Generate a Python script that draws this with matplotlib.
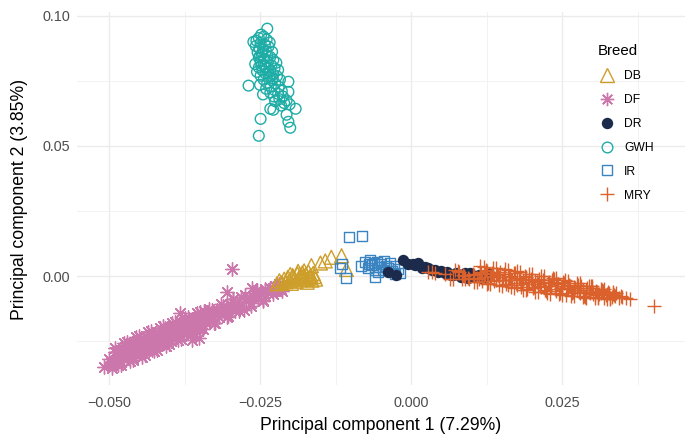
import matplotlib
matplotlib.use("Agg")
import matplotlib.pyplot as plt
from matplotlib.lines import Line2D
from matplotlib.ticker import FixedLocator

plt.rcParams['font.family'] = ['Liberation Sans', 'DejaVu Sans']

# ---------------- data ----------------
breeds = ["DB", "DF", "DR", "GWH", "IR", "MRY"]

gwh_x = [-0.0238, -0.0261, -0.0248, -0.0239, -0.0252, -0.0244, -0.0256, -0.0234, -0.0249, -0.0242,
         -0.0257, -0.0236, -0.0251, -0.0245, -0.0240, -0.0254, -0.0230, -0.0247, -0.0238, -0.0252,
         -0.0233, -0.0243, -0.0228, -0.0223, -0.0249, -0.0237, -0.0258, -0.0244, -0.0231, -0.0252,
         -0.0239, -0.0226, -0.0246, -0.0233, -0.0220, -0.0255, -0.0241, -0.0228, -0.0249, -0.0235,
         -0.0222, -0.0269, -0.0244, -0.0230, -0.0217, -0.0238, -0.0225, -0.0203, -0.0250, -0.0232,
         -0.0219, -0.0240, -0.0226, -0.0203, -0.0214, -0.0233, -0.0220, -0.0245, -0.0227, -0.0212,
         -0.0218, -0.0206, -0.0225, -0.0210, -0.0215, -0.0201, -0.0233, -0.0228, -0.0191, -0.0206,
         -0.0203, -0.0200, -0.0249, -0.0252, -0.0246, -0.0250, -0.0242, -0.0236, -0.0248, -0.0229]
gwh_y = [0.0951, 0.0900, 0.0928, 0.0909, 0.0915, 0.0920, 0.0905, 0.0898, 0.0896, 0.0889,
         0.0884, 0.0882, 0.0876, 0.0870, 0.0865, 0.0860, 0.0862, 0.0852, 0.0848, 0.0840,
         0.0842, 0.0835, 0.0830, 0.0820, 0.0825, 0.0822, 0.0815, 0.0812, 0.0810, 0.0802,
         0.0800, 0.0798, 0.0790, 0.0788, 0.0792, 0.0785, 0.0778, 0.0775, 0.0770, 0.0765,
         0.0768, 0.0732, 0.0755, 0.0752, 0.0755, 0.0742, 0.0740, 0.0747, 0.0735, 0.0730,
         0.0728, 0.0720, 0.0715, 0.0708, 0.0712, 0.0705, 0.0700, 0.0698, 0.0690, 0.0690,
         0.0680, 0.0675, 0.0672, 0.0665, 0.0655, 0.0660, 0.0643, 0.0639, 0.0643, 0.0620,
         0.0593, 0.0570, 0.0604, 0.0539, 0.0860, 0.0845, 0.0805, 0.0780, 0.0808, 0.0760]

df_x = [-0.0508, -0.0495, -0.0500, -0.0490, -0.0487, -0.0483, -0.0480, -0.0478, -0.0475, -0.0472,
        -0.0470, -0.0468, -0.0466, -0.0463, -0.0461, -0.0459, -0.0457, -0.0455, -0.0453, -0.0451,
        -0.0449, -0.0447, -0.0445, -0.0443, -0.0441, -0.0439, -0.0437, -0.0435, -0.0433, -0.0431,
        -0.0429, -0.0427, -0.0425, -0.0423, -0.0421, -0.0419, -0.0417, -0.0415, -0.0413, -0.0411,
        -0.0409, -0.0407, -0.0405, -0.0403, -0.0401, -0.0399, -0.0397, -0.0395, -0.0393, -0.0391,
        -0.0389, -0.0387, -0.0385, -0.0383, -0.0381, -0.0379, -0.0377, -0.0375, -0.0373, -0.0371,
        -0.0369, -0.0367, -0.0365, -0.0363, -0.0361, -0.0359, -0.0357, -0.0355, -0.0353, -0.0351,
        -0.0349, -0.0347, -0.0345, -0.0342, -0.0339, -0.0336, -0.0333, -0.0330, -0.0327, -0.0324,
        -0.0321, -0.0318, -0.0315, -0.0312, -0.0309, -0.0306, -0.0303, -0.0300, -0.0297, -0.0294,
        -0.0291, -0.0288, -0.0285, -0.0281, -0.0277, -0.0273, -0.0269, -0.0265, -0.0261, -0.0257,
        -0.0253, -0.0249, -0.0245, -0.0241, -0.0237, -0.0233, -0.0229, -0.0225, -0.0222, -0.0219,
        -0.0216, -0.0213, -0.0210, -0.0297, -0.0305, -0.0264, -0.0383, -0.0363, -0.0351, -0.0495,
        -0.0497,
        -0.0492, -0.0489, -0.0486, -0.0481, -0.0476, -0.0471, -0.0467, -0.0462, -0.0458, -0.0454,
        -0.0450, -0.0446, -0.0442, -0.0438, -0.0434, -0.0430, -0.0426, -0.0422, -0.0418, -0.0414,
        -0.0410, -0.0406, -0.0402, -0.0398, -0.0394, -0.0390, -0.0386, -0.0382, -0.0378, -0.0374,
        -0.0370, -0.0366, -0.0362, -0.0358, -0.0354, -0.0350, -0.0346, -0.0340, -0.0334, -0.0328,
        -0.0224, -0.0218, -0.0228, -0.0214, -0.0221, -0.0241,
        -0.0490, -0.0485, -0.0475, -0.0465, -0.0455, -0.0445, -0.0435, -0.0425, -0.0415, -0.0405,
        -0.0395, -0.0385, -0.0375, -0.0365, -0.0355, -0.0345, -0.0335, -0.0325, -0.0315, -0.0305,
        -0.0295, -0.0285, -0.0275, -0.0265, -0.0255, -0.0245,
        -0.0480, -0.0470, -0.0460, -0.0450, -0.0440, -0.0430, -0.0420, -0.0410, -0.0400, -0.0390,
        -0.0380, -0.0370, -0.0360, -0.0350]
df_y = [-0.0351, -0.0343, -0.0318, -0.0292, -0.0322, -0.0302, -0.0330, -0.0286, -0.0303, -0.0265,
        -0.0312, -0.0282, -0.0297, -0.0262, -0.0315, -0.0281, -0.0267, -0.0294, -0.0270, -0.0253,
        -0.0284, -0.0266, -0.0295, -0.0251, -0.0269, -0.0232, -0.0279, -0.0249, -0.0264, -0.0230,
        -0.0283, -0.0249, -0.0235, -0.0262, -0.0238, -0.0221, -0.0252, -0.0234, -0.0263, -0.0219,
        -0.0237, -0.0200, -0.0247, -0.0217, -0.0232, -0.0198, -0.0251, -0.0217, -0.0203, -0.0230,
        -0.0206, -0.0189, -0.0220, -0.0189, -0.0231, -0.0187, -0.0205, -0.0168, -0.0215, -0.0185,
        -0.0200, -0.0166, -0.0219, -0.0185, -0.0171, -0.0198, -0.0174, -0.0157, -0.0188, -0.0170,
        -0.0199, -0.0155, -0.0173, -0.0135, -0.0181, -0.0150, -0.0164, -0.0129, -0.0181, -0.0146,
        -0.0131, -0.0157, -0.0132, -0.0114, -0.0144, -0.0125, -0.0153, -0.0108, -0.0125, -0.0087,
        -0.0133, -0.0102, -0.0116, -0.0080, -0.0131, -0.0095, -0.0079, -0.0104, -0.0078, -0.0059,
        -0.0088, -0.0068, -0.0095, -0.0049, -0.0065, -0.0048, -0.0071, -0.0039, -0.0053, -0.0032,
        -0.0049, -0.0032, -0.0039, 0.0027, -0.0060, -0.0048, -0.0143, -0.0246, -0.0239, -0.0354,
        -0.0331,
        -0.0325, -0.0294, -0.0331, -0.0297, -0.0302, -0.0268, -0.0305, -0.0274, -0.0291, -0.0259,
        -0.0295, -0.0262, -0.0268, -0.0235, -0.0272, -0.0242, -0.0259, -0.0227, -0.0263, -0.0230,
        -0.0236, -0.0203, -0.0240, -0.0210, -0.0227, -0.0195, -0.0231, -0.0198, -0.0204, -0.0171,
        -0.0208, -0.0178, -0.0195, -0.0163, -0.0199, -0.0166, -0.0172, -0.0147, -0.0169, -0.0141,
        -0.0058, -0.0050, -0.0046, -0.0058, -0.0040, -0.0054,
        -0.0275, -0.0344, -0.0258, -0.0328, -0.0236, -0.0310, -0.0216, -0.0290, -0.0198, -0.0268,
        -0.0180, -0.0246, -0.0162, -0.0224, -0.0144, -0.0202, -0.0126, -0.0180, -0.0108, -0.0158,
        -0.0090, -0.0136, -0.0072, -0.0114, -0.0054, -0.0092,
        -0.0341, -0.0253, -0.0323, -0.0231, -0.0305, -0.0211, -0.0285, -0.0193, -0.0263, -0.0175,
        -0.0241, -0.0157, -0.0219, -0.0139]

db_x = [-0.0222, -0.0218, -0.0214, -0.0210, -0.0207, -0.0204, -0.0201, -0.0198, -0.0196, -0.0193,
        -0.0190, -0.0188, -0.0185, -0.0183, -0.0180, -0.0178, -0.0176, -0.0174, -0.0172, -0.0170,
        -0.0168, -0.0166, -0.0164, -0.0162, -0.0160, -0.0158, -0.0187, -0.0177, -0.0195, -0.0182,
        -0.0171, -0.0200, -0.0165, -0.0150, -0.0142, -0.0132, -0.0115, -0.0107]
db_y = [-0.0030, -0.0018, -0.0026, -0.0012, -0.0022, -0.0005, -0.0016, -0.0028, 0.0002, -0.0010,
        -0.0020, 0.0008, -0.0004, -0.0015, 0.0012, -0.0002, -0.0012, 0.0006, -0.0024, 0.0016,
        -0.0006, 0.0003, -0.0016, 0.0010, -0.0002, -0.0012, 0.0018, 0.0020, -0.0004, 0.0004,
        -0.0008, 0.0006, 0.0040, 0.0050, 0.0058, 0.0072, 0.0078, 0.0025]

ir_x = [-0.0102, -0.0081, -0.0115, -0.0107, -0.0059, -0.0117, -0.0082, -0.0076, -0.0072, -0.0068,
        -0.0064, -0.0060, -0.0057, -0.0053, -0.0050, -0.0047, -0.0044, -0.0041, -0.0038, -0.0035,
        -0.0032, -0.0029, -0.0026, -0.0022, -0.0018, -0.0070, -0.0055, -0.0062]
ir_y = [0.0150, 0.0154, 0.0046, -0.0008, -0.0004, 0.0030, 0.0040, 0.0052, 0.0030, 0.0060,
        0.0042, 0.0025, 0.0055, 0.0036, 0.0048, 0.0022, 0.0058, 0.0040, 0.0030, 0.0050,
        0.0018, 0.0038, 0.0008, 0.0026, 0.0012, 0.0046, 0.0015, 0.0050]

dr_x = [-0.0038, -0.0025, -0.0013, -0.0005, 0.0003, 0.0007, 0.0012, 0.0018, 0.0023, 0.0028,
        0.0034, 0.0040, 0.0045, 0.0050, 0.0056, 0.0060, 0.0066, 0.0070, 0.0075, 0.0080,
        0.0083, 0.0089, 0.0094, 0.0097, 0.0100, 0.0106, 0.0112, 0.0118, 0.0124, 0.0127]
dr_y = [0.0015, 0.0004, 0.0062, 0.0046, 0.0045, 0.0042, 0.0050, 0.0030, 0.0036, 0.0030,
        0.0022, 0.0023, 0.0015, 0.0020, 0.0012, 0.0016, 0.0004, 0.0005, 0.0012, 0.0002,
        -0.0004, 0.0011, -0.0008, 0.0012, 0.0005, -0.0004, 0.0003, -0.0006, 0.0001, 0.0012]

mry_x = [0.0028, 0.0040, 0.0056, 0.0072, 0.0080, 0.0088, 0.0096, 0.0104,
         0.0112, 0.0116, 0.0120, 0.0124, 0.0128, 0.0132, 0.0136,
         0.0140, 0.0144, 0.0148, 0.0152, 0.0156, 0.0160, 0.0164, 0.0168, 0.0172, 0.0176,
         0.0180, 0.0184, 0.0188, 0.0192, 0.0196, 0.0200, 0.0204, 0.0208, 0.0212, 0.0216,
         0.0220, 0.0224, 0.0228, 0.0232, 0.0236, 0.0240, 0.0244, 0.0248, 0.0252, 0.0256,
         0.0260, 0.0264, 0.0268, 0.0272, 0.0276, 0.0280, 0.0284, 0.0288, 0.0292, 0.0296,
         0.0300, 0.0304, 0.0308, 0.0312, 0.0316, 0.0320, 0.0324, 0.0328, 0.0332, 0.0336,
         0.0340, 0.0344, 0.0348,
         0.0034, 0.0078, 0.0086, 0.0094, 0.0102, 0.0110,
         0.0114, 0.0118, 0.0122, 0.0126, 0.0130, 0.0134, 0.0138,
         0.0142, 0.0146, 0.0150, 0.0154, 0.0158, 0.0162, 0.0166, 0.0170, 0.0174, 0.0178,
         0.0182, 0.0186, 0.0190, 0.0194, 0.0198, 0.0202, 0.0206, 0.0210, 0.0214, 0.0218,
         0.0222, 0.0226, 0.0230, 0.0234, 0.0238, 0.0242, 0.0246, 0.0250, 0.0254, 0.0258,
         0.0262, 0.0266, 0.0270, 0.0274, 0.0278, 0.0282, 0.0286, 0.0290, 0.0294, 0.0298,
         0.0302, 0.0306, 0.0310, 0.0314, 0.0318, 0.0322, 0.0326, 0.0330, 0.0334, 0.0338,
         0.0070, 0.0090, 0.0110, 0.0120, 0.0130, 0.0140, 0.0150,
         0.0160, 0.0170, 0.0180, 0.0190, 0.0200, 0.0210, 0.0220, 0.0230, 0.0240, 0.0250,
         0.0260, 0.0270, 0.0280, 0.0290, 0.0300, 0.0310, 0.0320, 0.0330,
         0.0065, 0.0085, 0.0105, 0.0115, 0.0125, 0.0135, 0.0145, 0.0155,
         0.0165, 0.0175, 0.0185, 0.0195, 0.0205, 0.0215, 0.0225, 0.0235, 0.0245, 0.0255,
         0.0265, 0.0275, 0.0285, 0.0295, 0.0305, 0.0315, 0.0325, 0.0335,
         0.0350, 0.0356, 0.0363, 0.0403]
mry_y = [0.0014, 0.0010, 0.0008, 0.0023, 0.0017, 0.0001, -0.0013, 0.0005,
         -0.0011, 0.0013, -0.0003, 0.0024, -0.0026, 0.0001, 0.0010,
         -0.0016, 0.0002, 0.0014, -0.0017, -0.0004, -0.0033, 0.0001, -0.0017, 0.0012, -0.0033,
         -0.0010, -0.0026, 0.0000, -0.0051, -0.0023, -0.0015, -0.0041, -0.0024, -0.0012, -0.0042,
         -0.0028, -0.0058, -0.0023, -0.0040, -0.0012, -0.0056, -0.0032, -0.0048, -0.0022, -0.0072,
         -0.0045, -0.0037, -0.0063, -0.0046, -0.0034, -0.0065, -0.0052, -0.0081, -0.0047, -0.0064,
         -0.0046, -0.0073, -0.0060, -0.0070, -0.0055, -0.0086, -0.0070, -0.0065, -0.0082, -0.0072,
         -0.0065, -0.0085, -0.0077,
         0.0016, 0.0021, 0.0003, -0.0009, 0.0007, -0.0006,
         0.0016, -0.0021, 0.0007, 0.0019, -0.0005, 0.0013, -0.0020,
         0.0006, -0.0005, -0.0014, 0.0008, -0.0029, -0.0004, -0.0014, 0.0010, -0.0028, -0.0007,
         -0.0044, -0.0017, -0.0005, -0.0029, -0.0012, -0.0046, -0.0019, -0.0030, -0.0039, -0.0017,
         -0.0054, -0.0028, -0.0038, -0.0014, -0.0051, -0.0029, -0.0067, -0.0039, -0.0027, -0.0051,
         -0.0034, -0.0067, -0.0041, -0.0053, -0.0062, -0.0040, -0.0077, -0.0052, -0.0062, -0.0038,
         -0.0071, -0.0058, -0.0082, -0.0065, -0.0058, -0.0074, -0.0063, -0.0084, -0.0069, -0.0076,
         -0.0012, -0.0013, -0.0023, 0.0036, -0.0031, 0.0030, -0.0038,
         0.0024, -0.0046, 0.0015, -0.0055, 0.0007, -0.0062, 0.0000, -0.0068, -0.0009, -0.0072,
         -0.0018, -0.0078, -0.0028, -0.0084, -0.0040, -0.0086, -0.0051, -0.0089,
         -0.0010, -0.0012, -0.0022, 0.0038, -0.0029, 0.0032, -0.0036, 0.0026,
         -0.0044, 0.0018, -0.0053, 0.0009, -0.0061, 0.0001, -0.0066, -0.0007, -0.0071, -0.0016,
         -0.0076, -0.0026, -0.0082, -0.0038, -0.0084, -0.0049, -0.0087, -0.0060,
         -0.0081, -0.0086, -0.0089, -0.0116]

x_ticks = [-0.050, -0.025, 0.000, 0.025]
x_tick_labels = ["\u22120.050", "\u22120.025", "0.000", "0.025"]
y_ticks = [0.00, 0.05, 0.10]
y_tick_labels = ["0.00", "0.05", "0.10"]

colors = {"DB": "#CD9E2A", "DF": "#CC77AB", "DR": "#1C2A4C",
          "GWH": "#1EADA6", "IR": "#3A84C2", "MRY": "#DB612C"}

# ---------------- figure ----------------
W, H = 686, 436
fig = plt.figure(figsize=(W / 100, H / 100), dpi=100)
ax = fig.add_axes([77 / W, (H - 385) / H, (685 - 77) / W, (385 - 12) / H])

ax.set_xlim(-0.0553, 0.04536)
ax.set_ylim(-0.0419, 0.1015)

lw = 1.0
sty = {
    "DB": dict(marker="^", s=10.0 ** 2, facecolors="none", edgecolors=colors["DB"], linewidths=lw),
    "DF": dict(marker=(8, 2, 0), s=9.6 ** 2, color=colors["DF"], linewidths=lw),
    "DR": dict(marker="o", s=8.2 ** 2, color=colors["DR"], linewidths=0),
    "GWH": dict(marker="o", s=7.7 ** 2, facecolors="none", edgecolors=colors["GWH"], linewidths=lw),
    "IR": dict(marker="s", s=7.2 ** 2, facecolors="none", edgecolors=colors["IR"], linewidths=lw),
    "MRY": dict(marker="+", s=10.5 ** 2, color=colors["MRY"], linewidths=lw),
}

ax.scatter(gwh_x, gwh_y, zorder=3, **sty["GWH"])
ax.scatter(df_x, df_y, zorder=3, **sty["DF"])
ax.scatter(db_x, db_y, zorder=4, **sty["DB"])
ax.scatter(ir_x, ir_y, zorder=5, **sty["IR"])
ax.scatter(dr_x, dr_y, zorder=6, **sty["DR"])
ax.scatter(mry_x, mry_y, zorder=7, **sty["MRY"])

# grid (theme_minimal)
ax.xaxis.set_major_locator(FixedLocator(x_ticks))
ax.yaxis.set_major_locator(FixedLocator(y_ticks))
ax.xaxis.set_minor_locator(FixedLocator([-0.0375, -0.0125, 0.0125, 0.0375]))
ax.yaxis.set_minor_locator(FixedLocator([-0.025, 0.025, 0.075]))
ax.set_xticklabels(x_tick_labels)
ax.set_yticklabels(y_tick_labels)
ax.grid(which="major", color="#EBEBEB", linewidth=1.0)
ax.grid(which="minor", color="#F0F0F0", linewidth=0.6)
ax.set_axisbelow(True)
for sp in ax.spines.values():
    sp.set_visible(False)
ax.tick_params(which="both", length=0)
ax.tick_params(axis="x", pad=8, labelsize=10.4, labelcolor="#4D4D4D")
ax.tick_params(axis="y", pad=5, labelsize=10.4, labelcolor="#4D4D4D")

fig.text(381 / W, 1 - 425 / H, "Principal component 1 (7.29%)", ha="center", va="center",
         fontsize=12.7, color="black")
fig.text(20 / W, 1 - 199 / H, "Principal component 2 (3.85%)", ha="center", va="center",
         rotation=90, fontsize=12.7, color="black")

# legend
handles = []
for b in breeds:
    st = sty[b]
    mk = st["marker"]
    ms = st["s"] ** 0.5
    if b in ("DB", "GWH", "IR"):
        h = Line2D([], [], linestyle="none", marker=mk, markersize=ms, markerfacecolor="none",
                   markeredgecolor=colors[b], markeredgewidth=lw)
    elif b == "DR":
        h = Line2D([], [], linestyle="none", marker=mk, markersize=ms, markerfacecolor=colors[b],
                   markeredgewidth=0)
    else:
        h = Line2D([], [], linestyle="none", marker=mk, markersize=ms, color=colors[b],
                   markeredgewidth=lw)
    handles.append(h)

leg = ax.legend(handles, breeds, title="Breed", loc="upper left",
                bbox_to_anchor=(589 / W, 1 - 36 / H), bbox_transform=fig.transFigure,
                frameon=False, fontsize=8.7, title_fontsize=10.8,
                labelspacing=0.98, handletextpad=0.6, handlelength=1.6, borderpad=0.2)
leg._legend_box.align = "left"

fig.savefig("out.png", dpi=100)
